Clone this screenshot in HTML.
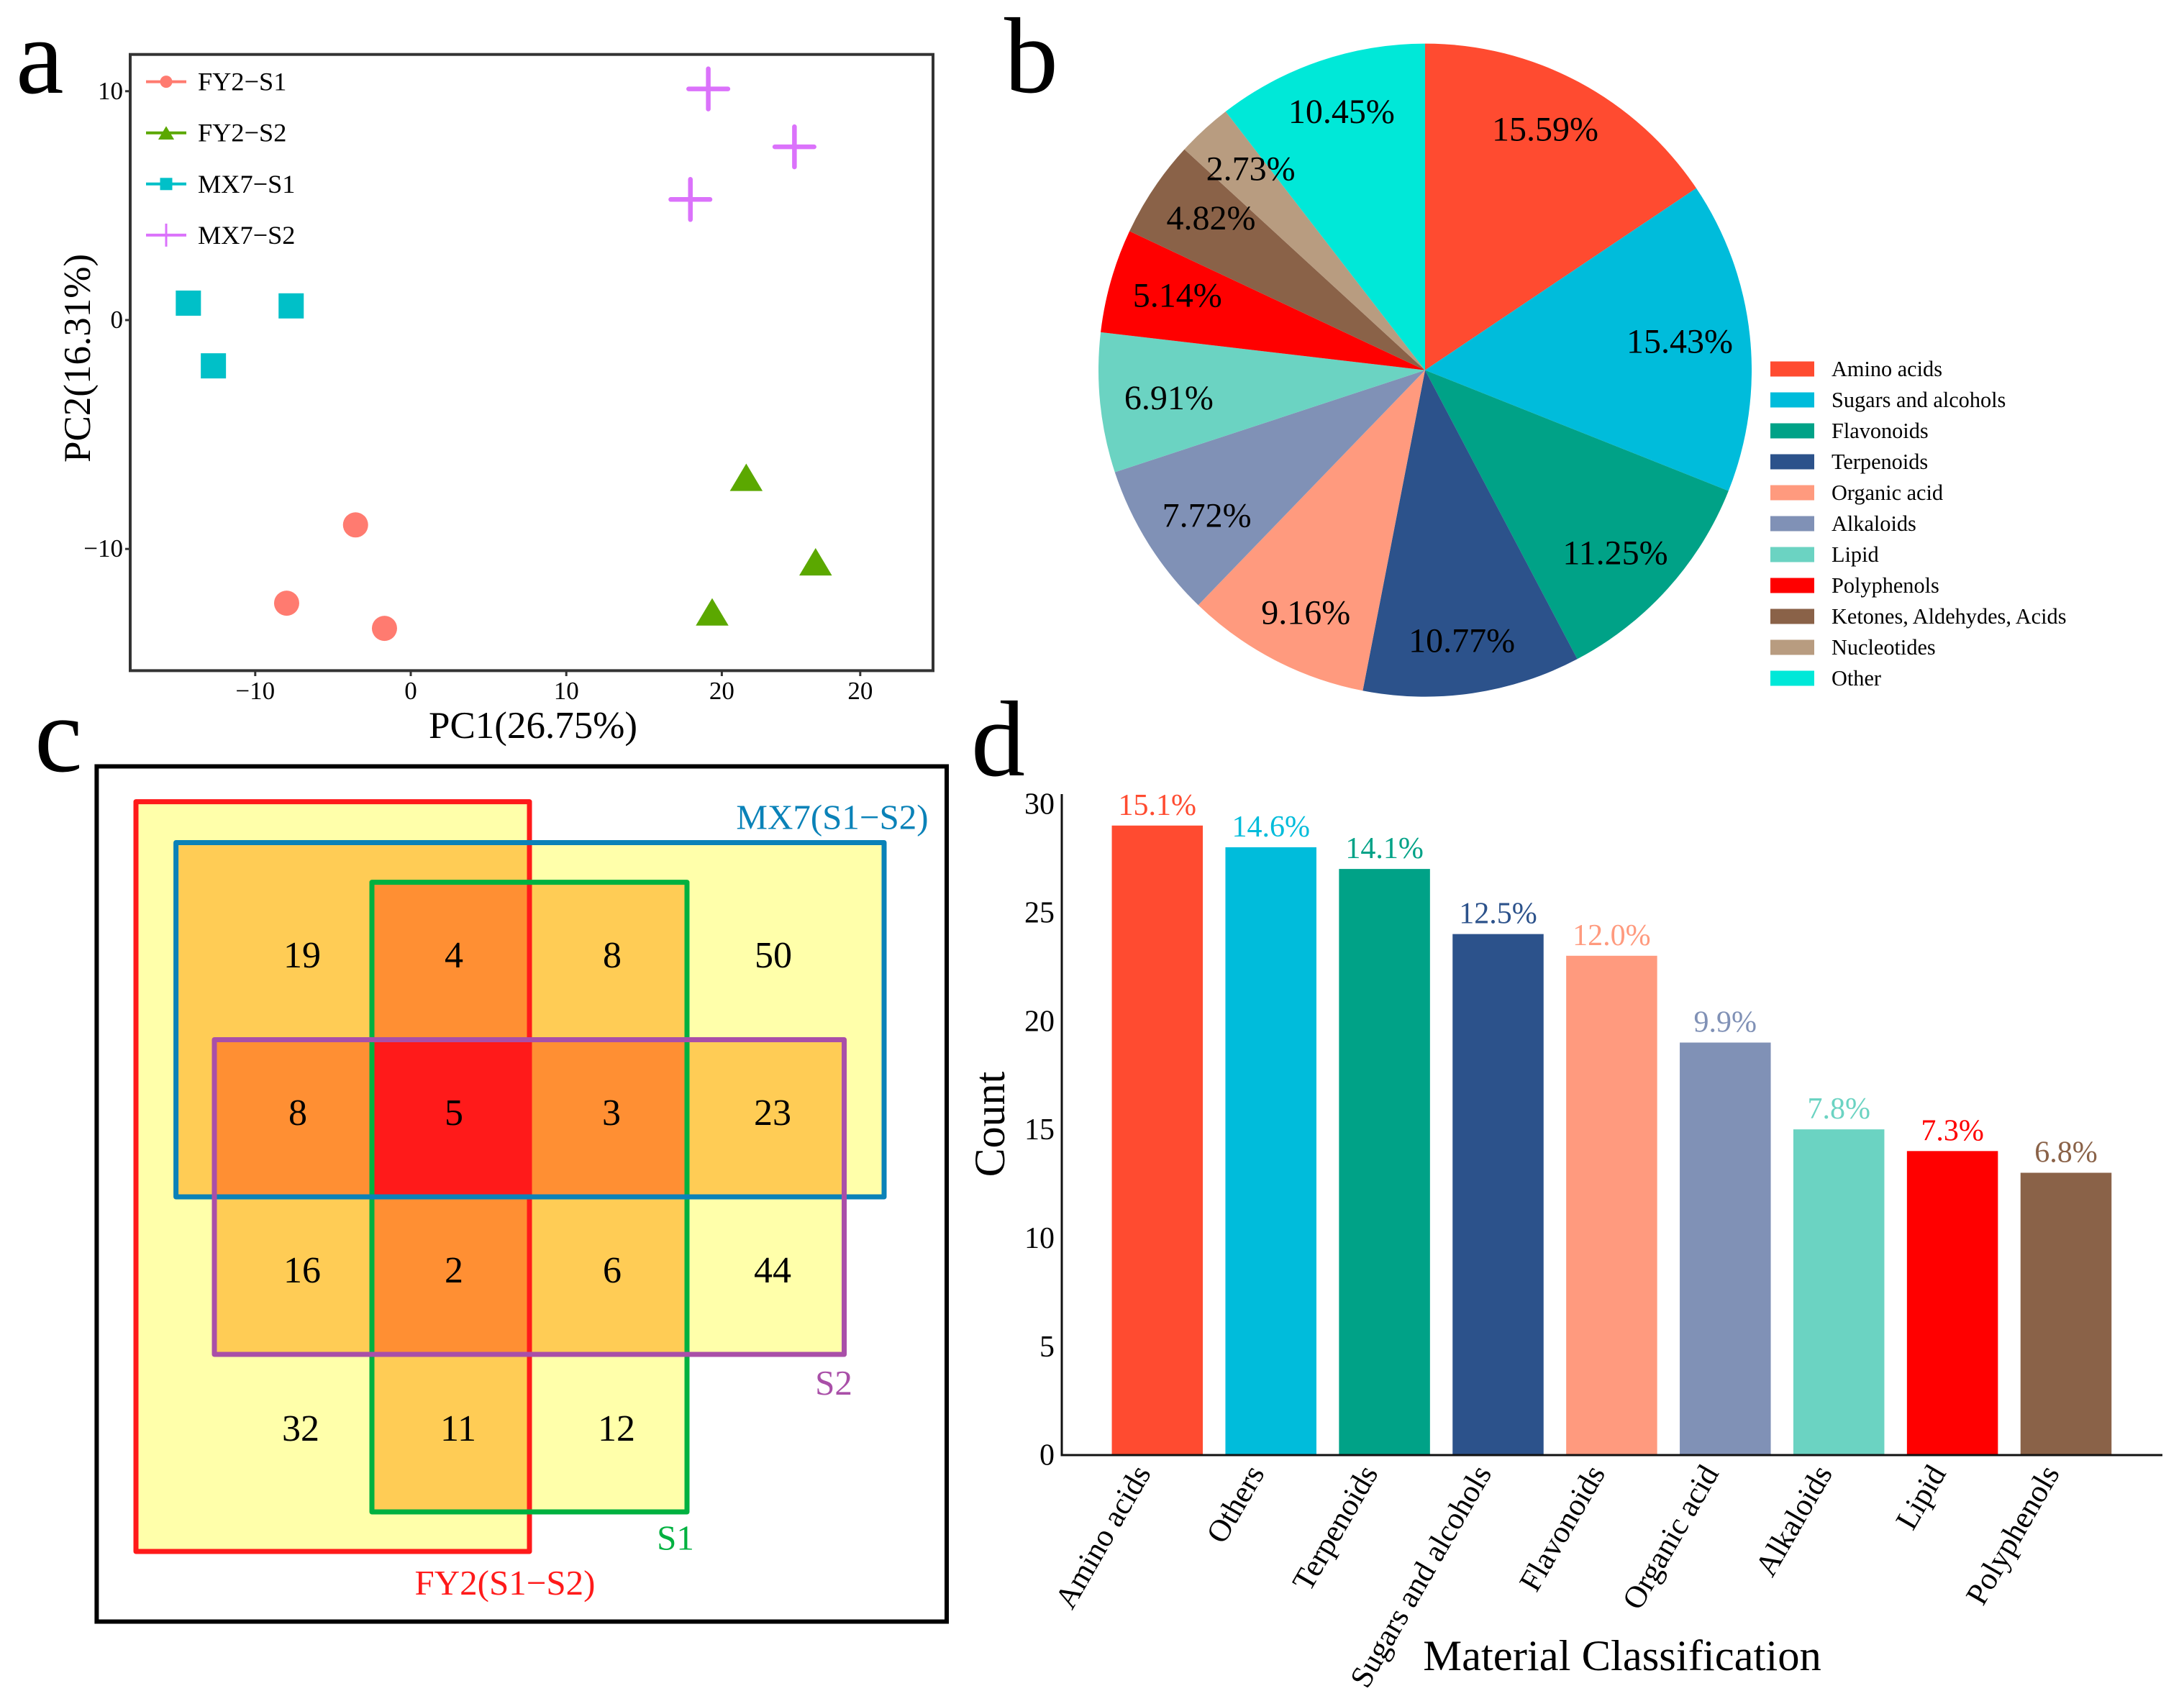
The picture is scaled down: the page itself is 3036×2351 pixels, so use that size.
<!DOCTYPE html>
<html lang="en">
<head>
<meta charset="utf-8">
<title>Metabolite analysis figure</title>
<style>
html,body{margin:0;padding:0;background:#fff;}
svg{display:block;}
text{font-family:"Liberation Serif",serif;}
</style>
</head>
<body>
<svg id="fig" xmlns="http://www.w3.org/2000/svg" width="3036" height="2351" viewBox="0 0 3036 2351">
<rect width="3036" height="2351" fill="#fff"/>

<text x="22" y="129" font-size="150">a</text>
<text x="1396" y="128" font-size="150">b</text>
<text x="48" y="1072" font-size="150">c</text>
<text x="1350" y="1078" font-size="150">d</text>

<g id="panel-a">
<rect x="181" y="75.7" width="1116" height="856.7" fill="#fff" stroke="#333" stroke-width="4"/>
<text x="741" y="1026" font-size="53" text-anchor="middle">PC1(26.75%)</text>
<text transform="translate(125,498) rotate(-90)" font-size="53" text-anchor="middle">PC2(16.31%)</text>
</g>

<g id="panel-b"></g>

<g id="panel-c">
<rect x="134.4" y="1065.5" width="1181.6" height="1189" fill="#fff" stroke="#000" stroke-width="6"/>
<g id="venn-fill" shape-rendering="crispEdges"></g>
<g fill="none" stroke-width="7" stroke-linejoin="round">
<rect x="189" y="1114.6" width="547" height="1042.4" stroke="#FF1A1A"/>
<rect x="517" y="1226.6" width="438" height="875.4" stroke="#00B140"/>
<rect x="244.6" y="1171.5" width="984.4" height="492.5" stroke="#0A82B8"/>
<rect x="298" y="1445.5" width="875.5" height="437.5" stroke="#A94FA8"/>
</g>
<g font-size="52" text-anchor="middle" fill="#000">
<text x="420" y="1345">19</text>
<text x="631" y="1345">4</text>
<text x="851" y="1345">8</text>
<text x="1075" y="1345">50</text>
<text x="414" y="1564">8</text>
<text x="631" y="1564">5</text>
<text x="850" y="1564">3</text>
<text x="1074" y="1564">23</text>
<text x="420" y="1783">16</text>
<text x="631" y="1783">2</text>
<text x="851" y="1783">6</text>
<text x="1074" y="1783">44</text>
<text x="418" y="2003">32</text>
<text x="637" y="2003">11</text>
<text x="857" y="2003">12</text>
</g>
<g font-size="49" text-anchor="middle">
<text x="1157" y="1152.5" fill="#0A82B8">MX7(S1−S2)</text>
<text x="702" y="2217" fill="#FF1A1A">FY2(S1−S2)</text>
<text x="939" y="2154.6" fill="#00B140">S1</text>
<text x="1159" y="1939" fill="#A94FA8">S2</text>
</g>
</g>

<g id="panel-d">
<text x="2255" y="2322" font-size="60.6" text-anchor="middle">Material Classification</text>
<text transform="translate(1396,1563) rotate(-90)" font-size="60" text-anchor="middle">Count</text>
</g>
</svg>

<script>
// ---------- Panel a data ----------
const pcaGroups = ["FY2−S1", "FY2−S2", "MX7−S1", "MX7−S2"];
const pcaShapes = ["circle", "triangle", "square", "plus"];
const pcaColors = ["#FF7B70", "#5BA800", "#00C0C8", "#DB72FB"];
const fy2S1X = [-3.55, -7.98, -1.69];
const fy2S1Y = [-8.95, -12.37, -13.47];
const fy2S2X = [21.57, 26.03, 19.38];
const fy2S2Y = [-6.87, -10.56, -12.75];
const mx7S1X = [-14.3, -7.69, -12.69];
const mx7S1Y = [0.74, 0.62, -2.0];
const mx7S2X = [19.13, 24.67, 17.98];
const mx7S2Y = [10.1, 7.57, 5.27];
const pcaXTicks = [-10, 0, 10, 20, 28.9];
const pcaXTickLabels = ["−10", "0", "10", "20", "20"];
const pcaYTicks = [10, 0, -10];
const pcaYTickLabels = ["10", "0", "−10"];

// ---------- Panel b data ----------
const pieCategories = ["Amino acids", "Sugars and alcohols", "Flavonoids", "Terpenoids", "Organic acid", "Alkaloids", "Lipid", "Polyphenols", "Ketones, Aldehydes, Acids", "Nucleotides", "Other"];
const pieValues = [15.59, 15.43, 11.25, 10.77, 9.16, 7.72, 6.91, 5.14, 4.82, 2.73, 10.45];
const pieColors = ["#FF4B30", "#00BCDB", "#00A287", "#2C528B", "#FF9A7E", "#8091B6", "#6BD3C2", "#FF0000", "#8A6248", "#B89C80", "#00E8D8"];

// ---------- Panel d data ----------
const barCategories = ["Amino acids", "Others", "Terpenoids", "Sugars and alcohols", "Flavonoids", "Organic acid", "Alkaloids", "Lipid", "Polyphenols"];
const barCounts = [29, 28, 27, 24, 23, 19, 15, 14, 13];
const barPercents = ["15.1%", "14.6%", "14.1%", "12.5%", "12.0%", "9.9%", "7.8%", "7.3%", "6.8%"];
const barColors = ["#FF4B30", "#00BCDB", "#00A287", "#2C528B", "#FF9A7E", "#8091B6", "#6BD3C2", "#FF0000", "#8A6248"];
const barYTicks = [0, 5, 10, 15, 20, 25, 30];

const NS = "http://www.w3.org/2000/svg";
function mk(parent, tag, attrs, txt) {
  const n = document.createElementNS(NS, tag);
  for (const k in attrs) n.setAttribute(k, attrs[k]);
  if (txt !== undefined) n.textContent = txt;
  parent.appendChild(n);
  return n;
}

// ---------- Panel a ----------
(function () {
  const g = document.getElementById("panel-a");
  const xA = v => 571 + 21.62 * v;
  const yA = v => 445 - 31.82 * v;
  const seriesX = [fy2S1X, fy2S2X, mx7S1X, mx7S2X];
  const seriesY = [fy2S1Y, fy2S2Y, mx7S1Y, mx7S2Y];

  function marker(parent, shape, cx, cy, s, color) {
    if (shape === "circle") return mk(parent, "circle", { cx: cx, cy: cy, r: s / 2, fill: color });
    if (shape === "square") return mk(parent, "rect", { x: cx - s / 2, y: cy - s / 2, width: s, height: s, fill: color });
    if (shape === "triangle") {
      const w = s * 1.3, h = s * 1.09;
      return mk(parent, "polygon", { points: (cx - w / 2) + "," + (cy + h / 2) + " " + (cx + w / 2) + "," + (cy + h / 2) + " " + cx + "," + (cy - h / 2), fill: color });
    }
    const sw = s > 30 ? 6.5 : 3;
    return mk(parent, "path", { d: "M" + (cx - s * 0.78) + " " + cy + "H" + (cx + s * 0.78) + "M" + cx + " " + (cy - s * 0.8) + "V" + (cy + s * 0.8), fill: "none", stroke: color, "stroke-width": sw, "stroke-linecap": "round" });
  }

  pcaXTicks.forEach(function (v, i) {
    const t = mk(g, "line", { x1: xA(v), x2: xA(v), y1: 934, y2: 940, stroke: "#333", "stroke-width": 3 });
    
    
    const l = mk(g, "text", { x: xA(v), y: 972, "font-size": 35, "text-anchor": "middle" }, pcaXTickLabels[i]);
    
    
  });
  pcaYTicks.forEach(function (v, i) {
    const t = mk(g, "line", { x1: 174, x2: 179, y1: yA(v), y2: yA(v), stroke: "#333", "stroke-width": 3 });
    
    
    const l = mk(g, "text", { x: 171, y: yA(v) + 11, "font-size": 35, "text-anchor": "end" }, pcaYTickLabels[i]);
    
    
  });
  pcaGroups.forEach(function (name, i) {
    seriesX[i].forEach(function (xv, j) {
      const m = marker(g, pcaShapes[i], xA(xv), yA(seriesY[i][j]), 35, pcaColors[i]);
      
      
    });
    const ly = 113.6 + i * 71.1;
    const ln = mk(g, "line", { x1: 203, x2: 259, y1: ly, y2: ly, stroke: pcaColors[i], "stroke-width": 4 });
    
    
    if (pcaShapes[i] !== "plus") {
      const lm = marker(g, pcaShapes[i], 231, ly, 17, pcaColors[i]);
      
      
    } else {
      const lm = mk(g, "line", { x1: 231, x2: 231, y1: ly - 16, y2: ly + 16, stroke: pcaColors[i], "stroke-width": 3 });
      
      
    }
    const lt = mk(g, "text", { x: 275, y: ly + 12, "font-size": 36.3 }, name);
    
    
  });
})();

// ---------- Panel b ----------
(function () {
  const g = document.getElementById("panel-b");
  const cx = 1981, cy = 514.6, R = 454;
  const total = pieValues.reduce((a, b) => a + b, 0);
  const angle = frac => frac * 2 * Math.PI;
  const px = (a, r) => cx + r * Math.sin(a);
  const py = (a, r) => cy - r * Math.cos(a);
  let cum = 0;
  const labels = [];
  pieValues.forEach(function (v, i) {
    const a0 = angle(cum / total);
    const a1 = angle((cum + v) / total);
    const large = a1 - a0 > Math.PI ? 1 : 0;
    const d = "M" + cx + " " + cy + "L" + px(a0, R) + " " + py(a0, R) + "A" + R + " " + R + " 0 " + large + " 1 " + px(a1, R) + " " + py(a1, R) + "Z";
    const s = mk(g, "path", { d: d, fill: pieColors[i] });
    
    
    labels.push([(a0 + a1) / 2, v]);
    cum += v;
  });
  labels.forEach(function (p) {
    const lx = cx - 1 + 357 * Math.sin(p[0]);
    const ly = cy - 380 * Math.cos(p[0]) + 16;
    const t = mk(g, "text", { x: lx, y: ly, "font-size": 48, "text-anchor": "middle" }, p[1].toFixed(2) + "%");
    
    
  });
  pieCategories.forEach(function (name, i) {
    const y = 513 + i * 43;
    const sw = mk(g, "rect", { x: 2461, y: y - 10.5, width: 61, height: 21, fill: pieColors[i] });
    
    
    const t = mk(g, "text", { x: 2546, y: y + 10, "font-size": 30.3 }, name);
    
    
  });
})();

// ---------- Panel c fills ----------
(function () {
  const g = document.getElementById("venn-fill");
  const xs = [189, 244.6, 298, 517, 736, 955, 1173.5, 1229];
  const ys = [1114.6, 1171.5, 1226.6, 1445.5, 1664, 1883, 2102, 2157];
  const boxes = [[0, 4, 0, 7], [1, 7, 1, 4], [3, 5, 2, 6], [2, 6, 3, 5]];
  const tones = [null, "#FFFFAA", "#FFCC55", "#FF8F33", "#FF1A1A"];
  for (let i = 0; i < xs.length - 1; i++) {
    for (let j = 0; j < ys.length - 1; j++) {
      let n = 0;
      boxes.forEach(function (b) { if (i >= b[0] && i < b[1] && j >= b[2] && j < b[3]) n++; });
      if (!n) continue;
      const c = mk(g, "rect", { x: xs[i], y: ys[j], width: xs[i + 1] - xs[i], height: ys[j + 1] - ys[j], fill: tones[n] });
      
      
    }
  }
})();

// ---------- Panel d ----------
(function () {
  const g = document.getElementById("panel-d");
  const yD = v => 2022.7 - 30.17 * v;
  const xD = i => 1608.8 + 157.9 * i;
  const w = 126.5;
  barCounts.forEach(function (v, i) {
    const b = mk(g, "rect", { x: xD(i) - w / 2, y: yD(v), width: w, height: yD(0) - yD(v), fill: barColors[i] });
    
    
    const p = mk(g, "text", { x: xD(i), y: yD(v) - 15, "font-size": 42, "text-anchor": "middle", fill: barColors[i] }, barPercents[i]);
    
    
    const c = mk(g, "text", { transform: "translate(" + (xD(i) - 8) + ",2048) rotate(-60)", "font-size": 43.5, "text-anchor": "end" }, barCategories[i]);
    
    
  });
  barYTicks.forEach(function (v) {
    const t = mk(g, "text", { x: 1466, y: yD(v) + 14, "font-size": 42, "text-anchor": "end" }, String(v));
    
    
  });
  const ya = mk(g, "line", { x1: 1476, x2: 1476, y1: 1104, y2: 2024, stroke: "#111", "stroke-width": 3 });
  
  
  const xa = mk(g, "line", { x1: 1474.5, x2: 3006, y1: 2023, y2: 2023, stroke: "#111", "stroke-width": 3 });
  
  
})();
</script>
</body>
</html>
